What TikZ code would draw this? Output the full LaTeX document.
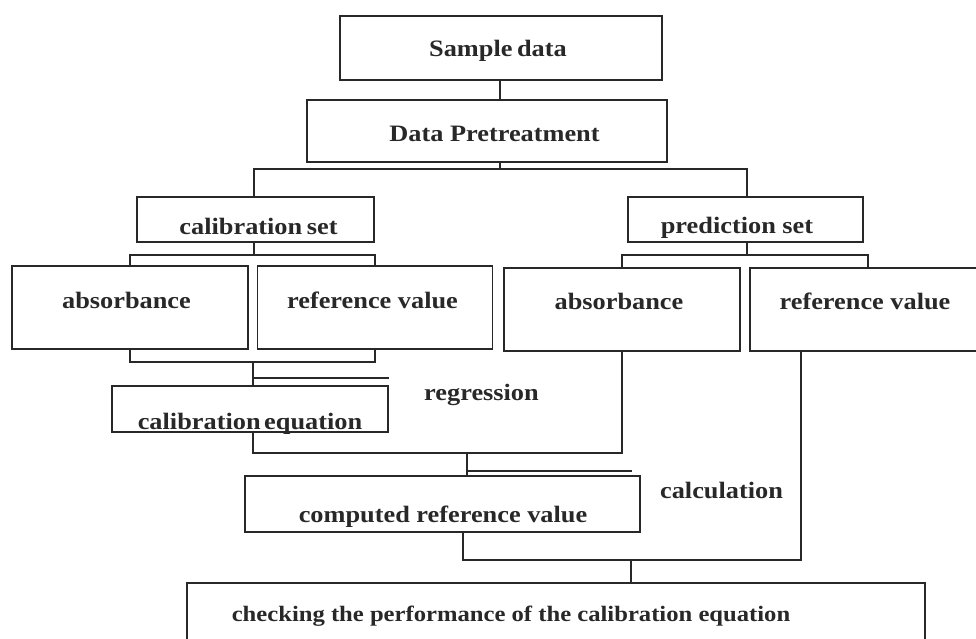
\documentclass[tikz,border=0pt]{standalone}
\usepackage{fontspec}
\setmainfont{Liberation Serif}[FakeStretch=1.12]
\definecolor{ink}{HTML}{282828}
\tikzset{
  box/.style={draw=ink, line width=1.4pt, rectangle, inner sep=0pt},
  heavybox/.style={box, line width=2.3pt},
  lbl/.style={text=ink, inner sep=0pt, anchor=base,
    font=\fontsize{23.5}{26}\selectfont\bfseries},
  smalllbl/.style={lbl, font=\fontsize{22}{24}\selectfont\bfseries},
  wire/.style={draw=ink, line width=1.4pt}
}
\begin{document}
\begin{tikzpicture}[x=1pt, y=-1pt]
  \clip (0,0) rectangle (976,639);
  \fill[white] (0,0) rectangle (976,639);

  % boxes
  \node[box, minimum width=322pt, minimum height=64pt] (sample)  at (501,48)    {};
  \node[box, minimum width=360pt, minimum height=62pt] (pre)     at (487,131)   {};
  \node[box, minimum width=237pt, minimum height=45pt] (calset)  at (255.5,219.5) {};
  \node[box, minimum width=235pt, minimum height=45pt] (predset) at (745.5,219.5) {};
  \node[box, minimum width=236pt, minimum height=83pt] (absL)    at (130,307.5) {};
  \node[box, minimum width=235pt, minimum height=83pt] (refL)    at (375,307.5) {};
  \node[box, minimum width=236pt, minimum height=83pt] (absR)    at (622,309.5) {};
  \node[box, minimum width=236pt, minimum height=83pt] (refR)    at (868,309.5) {};
  \node[box, minimum width=276pt, minimum height=46pt] (caleq)   at (250,409)   {};
  \node[box, minimum width=395pt, minimum height=56pt] (comp)    at (442.5,504) {};
  \node[heavybox, minimum width=738pt, minimum height=90pt] (check) at (556,628) {};

  % texts
  \node[lbl] (sampleT)  at (498,57)    {Sample\hspace{-2pt} data};
  \node[lbl] (preT)     at (494.5,142) {Data Pretreatment};
  \node[lbl] (calsetT)  at (258.5,234) {calibration\hspace{-2pt} set};
  \node[lbl] (predsetT) at (737,233)   {prediction set};
  \node[lbl] (absLT)    at (126.5,308) {absorbance};
  \node[lbl] (refLT)    at (372.5,308) {reference value};
  \node[lbl] (absRT)    at (619,309)   {absorbance};
  \node[lbl] (refRT)    at (865,309)   {reference value};
  \node[lbl] (regT)     at (481.5,400) {regression};
  \node[lbl] (caleqT)   at (250,429)   {calibration\hspace{-3pt} equation};
  \node[lbl] (calcT)    at (721.5,498) {calculation};
  \node[lbl] (compT)    at (443,522)   {computed reference value};
  \node[smalllbl] (checkT) at (511,621) {checking the performance of the calibration equation};

  % junction points of the connector buses
  \coordinate (busA) at (500,169);
  \coordinate (busB) at (254,255);
  \coordinate (busC) at (747,255);
  \coordinate (busD) at (253,362);
  \coordinate (busE) at (467,453);
  \coordinate (busF) at (631,560);

  % Sample data -> Data Pretreatment
  \draw[wire] (sample.south -| busA) -- (pre.north -| busA);
  % Data Pretreatment -> both sets
  \draw[wire] (pre.south -| busA) -- (busA);
  \draw[wire] (calset.north -| busB) |- (busA) -| (predset.north -| busC);
  % calibration set -> its two boxes
  \draw[wire] (calset.south -| busB) -- (busB);
  \draw[wire] (absL.north) |- (busB) -| (refL.north);
  % prediction set -> its two boxes
  \draw[wire] (predset.south -| busC) -- (busC);
  \draw[wire] (absR.north) |- (busC) -| (refR.north);
  % regression: absorbance + reference value -> calibration equation
  \draw[wire] (absL.south) |- (busD) -| (refL.south);
  \draw[wire] (busD) -- (caleq.north -| busD);
  \draw[wire] (busD |- 0,378) -- (caleq.east |- 0,378);
  % calculation: calibration equation + absorbance -> computed value
  \draw[wire] (caleq.south -| busD) |- (busE) -| (absR.south);
  \draw[wire] (busE) -- (comp.north -| busE);
  \draw[wire] (busE |- 0,471) -- (632,471);
  % computed value + reference value -> checking
  \draw[wire] (comp.south -| 463,0) |- (busF) -| (refR.south -| 801,0);
  \draw[wire] (busF) -- (check.north -| busF);
\end{tikzpicture}
\end{document}
